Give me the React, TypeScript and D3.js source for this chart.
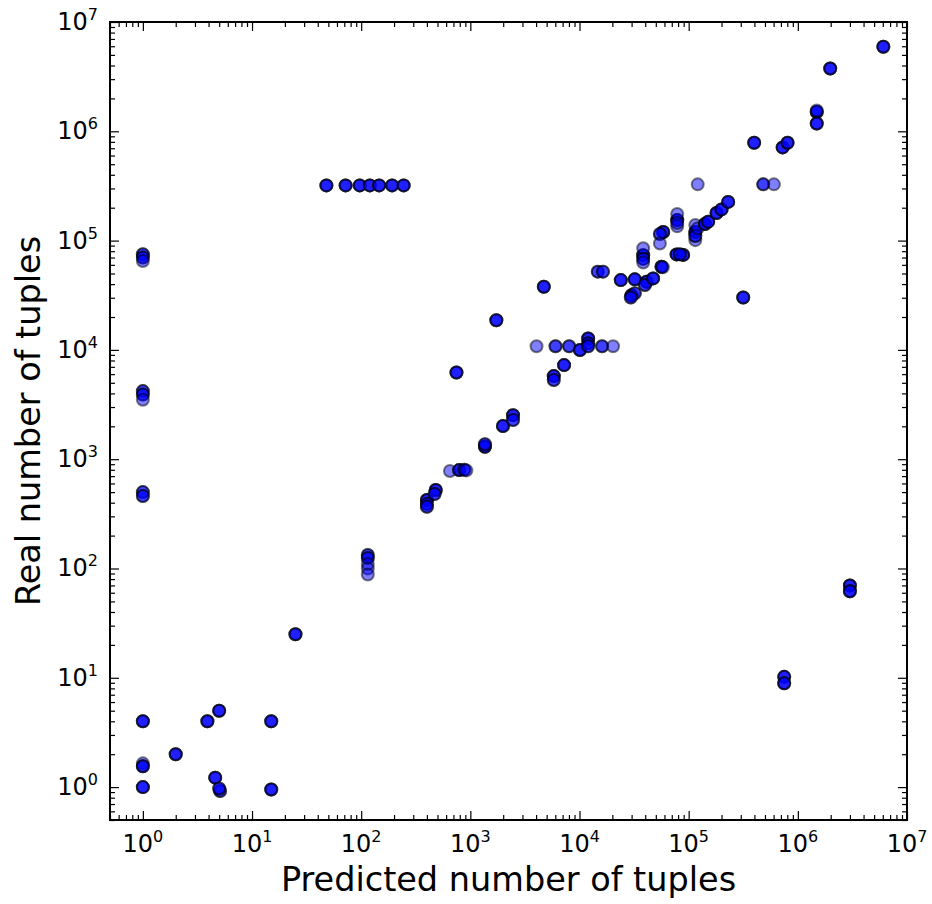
import React, { useRef, useEffect } from "react";
import * as d3 from "d3";

// [predicted, real] pairs; repeated entries are stacked duplicates (alpha 0.5 each)
const leftColumn: [number, number][] = [
  [1, 75000], [1, 75000], [1, 70000], [1, 70000], [1, 65000],
  [1, 4200], [1, 4200], [1, 3900], [1, 3900], [1, 3500],
  [1, 500], [1, 500], [1, 460], [1, 460],
  [1, 4], [1, 4], [1, 4],
  [1, 1.65], [1, 1.55], [1, 1.55], [1, 1.55],
  [1, 1], [1, 1], [1, 1],
];

const smallQueries: [number, number][] = [
  [2, 2], [2, 2], [2, 2],
  [3.9, 4], [3.9, 4], [3.9, 4],
  [5, 5], [5, 5], [5, 5],
  [4.6, 1.22], [4.6, 1.22], [4.6, 1.22],
  [5.1, 0.92], [5.1, 0.92], [5, 0.97], [5, 0.97],
  [15, 4], [15, 4], [15, 4],
  [15, 0.95], [15, 0.95], [15, 0.95],
  [25, 25], [25, 25], [25, 25],
];

const plateauRow: [number, number][] = [
  [48, 320000], [48, 320000], [48, 320000],
  [72, 320000], [72, 320000], [72, 320000],
  [97, 320000], [97, 320000], [97, 320000],
  [120, 320000], [120, 320000], [120, 320000],
  [146, 320000], [146, 320000], [146, 320000],
  [192, 320000], [192, 320000], [192, 320000],
  [245, 320000], [245, 320000], [245, 320000],
];

const midRow: [number, number][] = [
  [4040, 10800],
  [6030, 10800], [6030, 10800],
  [8030, 10800], [8030, 10800],
  [10100, 9960], [10100, 9960], [10100, 9960],
  [12000, 12700], [12000, 12700], [12000, 12700],
  [12000, 11500], [12000, 11500], [12000, 10800], [12000, 10800],
  [16100, 10800], [16100, 10800],
  [20300, 10800],
];

const diagonal: [number, number][] = [
  [115, 133], [115, 133], [115, 125], [115, 125], [115, 110], [115, 100], [115, 88],
  [400, 423], [400, 423], [400, 423], [400, 390], [400, 390], [400, 367], [400, 367],
  [482, 522], [482, 522], [482, 522], [470, 480], [470, 480],
  [650, 780], [790, 795], [790, 795], [790, 795], [880, 800], [880, 800], [920, 790],
  [1360, 1300], [1360, 1300], [1360, 1300], [1360, 1370], [1360, 1370],
  [1990, 2010], [1990, 2010], [1990, 2010],
  [2460, 2530], [2460, 2530], [2460, 2530], [2460, 2280], [2460, 2280],
  [5810, 5760], [5810, 5760], [5810, 5760], [5810, 5300], [5810, 5300],
  [7220, 7260], [7220, 7260], [7220, 7260],
  [746, 6220], [746, 6220], [746, 6220],
  [1730, 18700], [1730, 18700], [1730, 18700],
  [4710, 37800], [4710, 37800], [4710, 37800],
  [14700, 52000], [14700, 52000], [16400, 52000], [16400, 52000],
  [23900, 43500], [23900, 43500], [23900, 43500],
  [30000, 31700], [30000, 31700], [30000, 31700], [32100, 32900], [32100, 32900],
  [29500, 30200], [29500, 30200],
  [32100, 44200], [32100, 44200], [32100, 44200],
  [38300, 73600], [38300, 73600], [38300, 73600], [38300, 85000],
  [38300, 68000], [38300, 68000], [38300, 63000],
  [41100, 42000], [41100, 42000], [41100, 42000], [39700, 39200], [39700, 39200],
  [47200, 45100], [47200, 45100], [47200, 45100],
  [56400, 57600], [56400, 57600], [56400, 57600], [58000, 57000],
  [58400, 120000], [58400, 120000], [58400, 120000], [54500, 115000], [54500, 115000],
  [54500, 94000],
  [77500, 74800], [77500, 74800], [77500, 74800], [89000, 74000], [89000, 74000],
  [89000, 74000], [83000, 75000], [83000, 75000],
  [78500, 154000], [78500, 154000], [78500, 154000], [78500, 175000], [78500, 135000],
  [78500, 145000],
  [115000, 120000], [115000, 120000], [115000, 120000], [115000, 139000],
  [115000, 101000], [115000, 110000], [115000, 110000], [121000, 130000],
  [141000, 142000], [141000, 142000], [141000, 142000],
  [151000, 149000], [151000, 149000], [151000, 149000],
  [180000, 179000], [180000, 179000], [180000, 179000],
  [200000, 193000], [200000, 193000], [200000, 193000],
  [230000, 226000], [230000, 226000], [230000, 226000],
  [398000, 785000], [398000, 785000], [398000, 785000],
  [726000, 712000], [726000, 712000], [726000, 712000],
  [805000, 785000], [805000, 785000], [805000, 785000],
  [1490000, 1500000], [1490000, 1500000], [1490000, 1500000], [1490000, 1550000],
  [1490000, 1180000], [1490000, 1180000], [1490000, 1180000],
  [1980000, 3760000], [1980000, 3760000], [1980000, 3760000],
  [6070000, 5930000], [6070000, 5930000], [6070000, 5930000],
];

const outliers: [number, number][] = [
  [121000, 327000],
  [482000, 327000], [482000, 327000],
  [604000, 327000],
  [316000, 30200], [316000, 30200], [316000, 30200],
  [750000, 10.2], [750000, 10.2], [750000, 10.2],
  [750000, 8.9], [750000, 8.9], [750000, 8.9],
  [3000000, 70], [3000000, 70], [3000000, 70],
  [3000000, 62], [3000000, 62], [3000000, 62],
];

const domain: [number, number] = [0.5, 1e7];
const decades = [0, 1, 2, 3, 4, 5, 6, 7];

const W = 932, H = 904;
const m = { left: 110, top: 22, right: 25, bottom: 84 };
const font = "DejaVu Sans, sans-serif";

function App() {
  const svgRef = useRef<SVGSVGElement>(null);

  useEffect(() => {
    const svg = d3.select(svgRef.current);
    svg.selectAll("*").remove();
    const iw = W - m.left - m.right;
    const ih = H - m.top - m.bottom;

    const x = d3.scaleLog().domain(domain).range([m.left, m.left + iw]);
    const y = d3.scaleLog().domain(domain).range([m.top + ih, m.top]);

    const all = [...leftColumn, ...smallQueries, ...plateauRow, ...midRow, ...diagonal, ...outliers];

    svg.append("g")
      .selectAll("circle")
      .data(all)
      .join("circle")
      .attr("cx", d => x(d[0]))
      .attr("cy", d => y(d[1]))
      .attr("r", 6)
      .attr("fill", "#0000ff")
      .attr("fill-opacity", 0.5)
      .attr("stroke", "#000")
      .attr("stroke-opacity", 0.5)
      .attr("stroke-width", 2);

    const major = decades.map(k => Math.pow(10, k));
    const minor = x.ticks().filter(v => Math.abs(Math.log10(v) - Math.round(Math.log10(v))) > 1e-6);

    const tickAxis = (g: any, axis: any) => {
      g.call(axis);
      g.select(".domain").remove();
      g.selectAll("line").attr("stroke", "#000").attr("stroke-width", 1.2);
    };

    const xAxes: [any, number][] = [[d3.axisBottom, m.top + ih], [d3.axisTop, m.top]];
    xAxes.forEach(([fn, ty]) => {
      svg.append("g").attr("transform", `translate(0,${ty})`)
        .call(g => tickAxis(g, fn(x).tickValues(major).tickSize(-9).tickFormat(() => "")));
      svg.append("g").attr("transform", `translate(0,${ty})`)
        .call(g => tickAxis(g, fn(x).tickValues(minor).tickSize(-5).tickFormat(() => "")));
    });
    const yAxes: [any, number][] = [[d3.axisLeft, m.left], [d3.axisRight, m.left + iw]];
    yAxes.forEach(([fn, tx]) => {
      svg.append("g").attr("transform", `translate(${tx},0)`)
        .call(g => tickAxis(g, fn(y).tickValues(major).tickSize(-9).tickFormat(() => "")));
      svg.append("g").attr("transform", `translate(${tx},0)`)
        .call(g => tickAxis(g, fn(y).tickValues(minor).tickSize(-5).tickFormat(() => "")));
    });

    svg.append("rect")
      .attr("x", m.left).attr("y", m.top)
      .attr("width", iw).attr("height", ih)
      .attr("fill", "none").attr("stroke", "#000").attr("stroke-width", 2);

    // tick labels 10^k
    const powLabel = (sel: any, k: number) => {
      sel.append("tspan").text("10");
      sel.append("tspan").attr("dy", -10).attr("font-size", 16).text(String(k));
    };
    decades.forEach(k => {
      const t = svg.append("text")
        .attr("x", x(Math.pow(10, k)))
        .attr("y", m.top + ih + 32)
        .attr("text-anchor", "middle")
        .attr("font-family", font)
        .attr("font-size", 24)
        .attr("fill", "#000");
      powLabel(t, k);
      const u = svg.append("text")
        .attr("x", m.left - 12)
        .attr("y", y(Math.pow(10, k)) + 8)
        .attr("text-anchor", "end")
        .attr("font-family", font)
        .attr("font-size", 24)
        .attr("fill", "#000");
      powLabel(u, k);
    });

    svg.append("text")
      .attr("x", m.left + iw / 2)
      .attr("y", 891)
      .attr("text-anchor", "middle")
      .attr("font-family", font)
      .attr("font-size", 33.5)
      .attr("fill", "#000")
      .text("Predicted number of tuples");

    svg.append("text")
      .attr("transform", `translate(40,${m.top + ih / 2}) rotate(-90)`)
      .attr("text-anchor", "middle")
      .attr("font-family", font)
      .attr("font-size", 33.5)
      .attr("fill", "#000")
      .text("Real number of tuples");
  }, []);

  return (
    <svg ref={svgRef} width={W} height={H} style={{ display: "block", position: "absolute", left: 0, top: 0, background: "#fff" }} />
  );
}

export default App;
